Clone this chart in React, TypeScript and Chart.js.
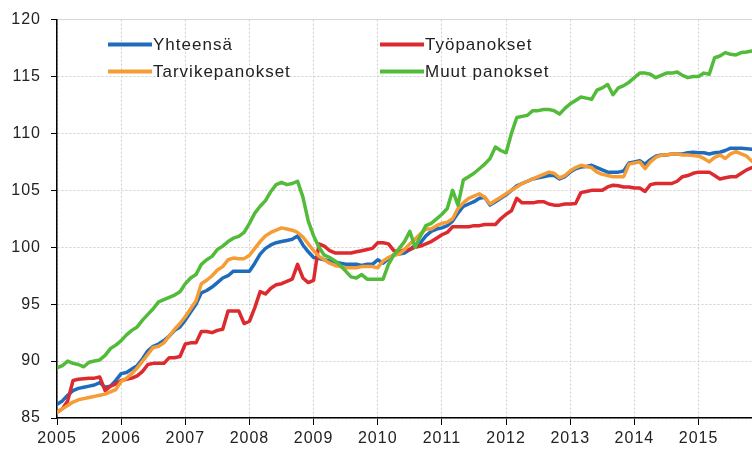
import React, { useEffect, useRef } from "react";
import { Chart, registerables } from "chart.js";

Chart.register(...registerables);

// Monthly index values, January 2005 - November 2015
const startYear = 2005;
const yearTicks = [2005, 2006, 2007, 2008, 2009, 2010, 2011, 2012, 2013, 2014, 2015];
const yTicks = [85, 90, 95, 100, 105, 110, 115, 120];
const seriesNames = ["Yhteensä", "Työpanokset", "Tarvikepanokset", "Muut panokset"];
const seriesColors = ["#1f6cbd", "#dd2a2f", "#f59c34", "#52bb3a"];

const yhteensa = [
  86.2, 86.5, 87.0, 87.4, 87.6, 87.7, 87.8, 87.9, 88.1, 87.7, 87.8, 88.3,
  88.9, 89.0, 89.3, 89.6, 90.2, 90.9, 91.3, 91.5, 91.8, 92.2, 92.7, 93.0,
  93.6, 94.3, 95.0, 96.0, 96.2, 96.5, 96.9, 97.3, 97.5, 97.9, 97.9, 97.9,
  97.9, 98.6, 99.4, 99.9, 100.2, 100.4, 100.5, 100.6, 100.7, 101.0, 100.2, 99.6,
  99.1, 99.0, 98.9, 98.8, 98.7, 98.6, 98.5, 98.5, 98.5, 98.4, 98.5, 98.5,
  98.9, 98.6, 99.0, 99.35, 99.4, 99.5, 99.8, 100.2, 100.4, 101.0, 101.4, 101.6,
  101.7, 101.9, 102.3, 103.0, 103.6, 103.8, 104.0, 104.3, 104.4, 103.7, 104.0, 104.3,
  104.6, 105.0, 105.4, 105.6, 105.8, 106.0, 106.1, 106.2, 106.3, 106.3, 106.0, 106.2,
  106.6, 106.9, 107.05, 107.1, 107.2, 107.0, 106.8, 106.6, 106.6, 106.6, 106.7, 107.4,
  107.5, 107.6, 107.3, 107.7, 108.0, 108.1, 108.1, 108.2, 108.2, 108.2, 108.3, 108.35,
  108.3, 108.3, 108.2, 108.3, 108.35, 108.5, 108.7, 108.7, 108.7, 108.65, 108.6,
];

const tyopanokset = [
  85.5, 85.8, 86.5, 88.3, 88.4, 88.45, 88.5, 88.5, 88.6, 87.4, 87.8, 88.0,
  88.3, 88.4, 88.5, 88.7, 89.1, 89.7, 89.8, 89.8, 89.8, 90.3, 90.3, 90.4,
  91.5, 91.6, 91.6, 92.6, 92.6, 92.5, 92.7, 92.8, 94.4, 94.4, 94.4, 93.3,
  93.5, 94.7, 96.1, 95.9, 96.4, 96.7, 96.8, 97.0, 97.2, 98.5, 97.3, 96.9,
  97.1, 100.3, 100.1, 99.7, 99.5, 99.5, 99.5, 99.5, 99.6, 99.7, 99.8, 99.9,
  100.4, 100.4, 100.3, 99.7, 99.6, 99.8, 99.8, 100.0, 100.1, 100.3, 100.5, 100.8,
  101.1, 101.3, 101.8, 101.8, 101.8, 101.8, 101.9, 101.9, 102.0, 102.0, 102.0, 102.5,
  102.9, 103.2, 104.3, 103.9, 103.9, 103.9, 104.0, 104.0, 103.8, 103.7, 103.7, 103.8,
  103.8, 103.85, 104.8, 104.9, 105.0, 105.0, 105.0, 105.3, 105.45, 105.4, 105.3, 105.3,
  105.2, 105.2, 104.9, 105.5, 105.6, 105.6, 105.6, 105.6, 105.8, 106.2, 106.3, 106.5,
  106.6, 106.6, 106.6, 106.3, 106.0, 106.1, 106.2, 106.2, 106.5, 106.8, 107.0,
];

const tarvikepanokset = [
  85.5, 85.8, 86.1, 86.4, 86.6, 86.7, 86.8, 86.9, 87.0, 87.1, 87.3, 87.5,
  88.2, 88.5, 88.9, 89.4, 90.0, 90.6, 91.2, 91.3, 91.6, 92.2, 92.8, 93.3,
  93.9, 94.6, 95.3, 96.8, 97.1, 97.5, 98.0, 98.3, 98.9, 99.05, 99.0, 99.0,
  99.3, 99.9, 100.5, 101.0, 101.3, 101.5, 101.7, 101.6, 101.5, 101.3, 100.9, 100.3,
  99.7, 99.2, 98.9, 98.6, 98.4, 98.3, 98.2, 98.2, 98.2, 98.3, 98.3, 98.3,
  98.2, 98.8, 99.1, 99.3, 99.4, 99.8, 100.3, 100.7, 101.2, 101.6, 101.6, 101.9,
  102.1, 102.2, 102.5, 103.4, 103.9, 104.3, 104.5, 104.7, 104.4, 103.8, 104.1, 104.4,
  104.7, 105.0, 105.3, 105.6, 105.8, 106.0, 106.2, 106.4, 106.6, 106.5, 106.1, 106.3,
  106.7, 107.0, 107.2, 107.1, 107.0, 106.6, 106.4, 106.3, 106.2, 106.2, 106.2, 107.3,
  107.4, 107.5, 106.9, 107.5, 107.9, 108.1, 108.1, 108.2, 108.2, 108.1, 108.1, 108.05,
  108.0, 107.8, 107.5, 107.9, 108.1, 107.8, 108.2, 108.4, 108.2, 108.0, 107.55,
];

const muutPanokset = [
  89.4, 89.6, 90.0, 89.8, 89.7, 89.5, 89.9, 90.0, 90.1, 90.5, 91.1, 91.4,
  91.8, 92.3, 92.7, 93.0, 93.6, 94.1, 94.6, 95.2, 95.4, 95.6, 95.8, 96.1,
  96.8, 97.3, 97.6, 98.5, 98.9, 99.2, 99.8, 100.1, 100.5, 100.8, 100.95, 101.3,
  102.1, 103.0, 103.6, 104.1, 104.9, 105.5, 105.7, 105.5, 105.6, 105.8, 104.4, 102.3,
  101.0, 100.0, 99.3, 99.1, 98.8, 98.4, 97.9, 97.4, 97.3, 97.6, 97.2, 97.2,
  97.2, 97.2, 98.5, 99.3, 99.9, 100.5, 101.4, 100.0, 101.0, 101.9, 102.1, 102.5,
  102.9, 103.4, 105.0, 103.7, 105.9, 106.2, 106.5, 106.9, 107.3, 107.8, 108.8, 108.5,
  108.3, 110.0, 111.4, 111.5, 111.6, 112.0, 112.0, 112.1, 112.1, 112.0, 111.7, 112.2,
  112.6, 112.9, 113.2, 113.1, 113.0, 113.8, 114.0, 114.3, 113.4, 114.0, 114.2, 114.5,
  114.9, 115.3, 115.3, 115.2, 114.9, 115.1, 115.3, 115.3, 115.4, 115.1, 114.9, 115.0,
  115.0, 115.3, 115.2, 116.65, 116.8, 117.1, 116.95, 116.9, 117.1, 117.15, 117.25,
];

const seriesValues = [yhteensa, tyopanokset, tarvikepanokset, muutPanokset];
const lastMonthIndex = yhteensa.length - 1;

const FONT_FAMILY = 'Arial, "Liberation Sans", sans-serif';
const TEXT_COLOR = "#222222";

function toPoints(values: number[]) {
  return values.map((v, i) => ({ x: startYear + i / 12, y: v }));
}

const spacingPlugin = {
  id: "letterSpacing",
  beforeUpdate(chart: any) {
    chart.ctx.letterSpacing = "1px";
  },
  beforeDraw(chart: any) {
    chart.ctx.letterSpacing = "1px";
  },
};

const legendPlugin = {
  id: "gridLegend",
  afterDraw(chart: any) {
    const ctx = chart.ctx as CanvasRenderingContext2D;
    const area = chart.chartArea;
    const slots = [
      { dx: 51, dy: 25 },
      { dx: 323, dy: 25 },
      { dx: 51, dy: 52 },
      { dx: 323, dy: 52 },
    ];
    ctx.save();
    (ctx as any).letterSpacing = "1px";
    ctx.font = `17px ${FONT_FAMILY}`;
    ctx.textBaseline = "middle";
    ctx.textAlign = "left";
    seriesNames.forEach((name, i) => {
      const x = area.left + slots[i].dx;
      const y = area.top + slots[i].dy;
      ctx.strokeStyle = seriesColors[i];
      ctx.lineWidth = 4;
      ctx.lineCap = "butt";
      ctx.beginPath();
      ctx.moveTo(x, y);
      ctx.lineTo(x + 44, y);
      ctx.stroke();
      ctx.fillStyle = TEXT_COLOR;
      ctx.fillText(name, x + 45, y + 1);
    });
    ctx.restore();
  },
};

export default function App() {
  const canvasRef = useRef<HTMLCanvasElement | null>(null);

  useEffect(() => {
    const canvas = canvasRef.current;
    if (!canvas) return;
    const drawOrder = [3, 2, 1, 0];
    const chart = new Chart(canvas, {
      type: "line",
      data: {
        datasets: seriesNames.map((name, i) => ({
          label: name,
          data: toPoints(seriesValues[i]),
          borderColor: seriesColors[i],
          backgroundColor: seriesColors[i],
          borderWidth: 3.5,
          pointRadius: 0,
          tension: 0,
          borderJoinStyle: "round" as const,
          borderCapStyle: "round" as const,
          order: drawOrder[i],
        })),
      },
      options: {
        responsive: false,
        animation: false,
        devicePixelRatio: 1,
        layout: { padding: { top: 16, right: 0, bottom: 0, left: 0 } },
        plugins: {
          legend: { display: false },
          tooltip: { enabled: false },
          title: { display: false },
        },
        scales: {
          x: {
            type: "linear",
            min: startYear,
            max: startYear + lastMonthIndex / 12,
            afterBuildTicks: (scale: any) => {
              scale.ticks = yearTicks.map((v) => ({ value: v }));
            },
            afterFit: (scale: any) => {
              scale.height = 32;
            },
            ticks: {
              includeBounds: false,
              autoSkip: false,
              maxRotation: 0,
              padding: 4,
              color: TEXT_COLOR,
              font: { family: FONT_FAMILY, size: 16 },
              callback: (v: any) => String(v),
            },
            grid: {
              color: "#cfcfcf",
              lineWidth: 1,
              tickColor: "#000000",
              tickLength: 7,
              drawTicks: true,
            },
            border: { display: true, color: "#000000", width: 1.5, dash: [2, 2] },
          },
          y: {
            min: 85,
            max: 120,
            afterBuildTicks: (scale: any) => {
              scale.ticks = yTicks.map((v) => ({ value: v }));
            },
            afterFit: (scale: any) => {
              scale.width = 57;
            },
            ticks: {
              padding: 10,
              color: TEXT_COLOR,
              font: { family: FONT_FAMILY, size: 16 },
              callback: (v: any) => String(v),
            },
            grid: {
              color: (c: any) => (c.tick && c.tick.value === 120 ? "#d6d6d6" : "#cfcfcf"),
              lineWidth: 1,
              tickColor: "#000000",
              tickLength: 6,
              drawTicks: true,
            },
            border: {
              display: true,
              color: "#000000",
              width: 1.5,
              dash: (c: any) => (c.tick && c.tick.value === 120 ? [] : [2, 2]),
            },
          },
        },
      },
      plugins: [spacingPlugin, legendPlugin],
    } as any);
    return () => chart.destroy();
  }, []);

  return (
    <div style={{ position: "fixed", left: 0, top: 0, width: 752, height: 450, background: "#ffffff" }}>
      <canvas ref={canvasRef} width={752} height={450} style={{ display: "block", width: 752, height: 450 }} />
    </div>
  );
}
